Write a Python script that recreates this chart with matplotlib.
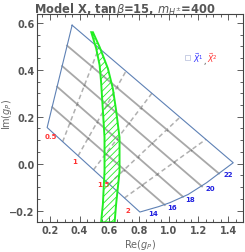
import numpy as np
import matplotlib
matplotlib.use("Agg")
import matplotlib.pyplot as plt
from matplotlib.ticker import MultipleLocator

# boundary of the allowed region (Re, Im)
edge_x = [0.350, 0.182, 0.806, 0.932, 1.008, 1.131, 1.255, 1.345, 1.434, 0.350]
edge_y = [0.590, 0.154, -0.206, -0.183, -0.166, -0.131, -0.081, -0.038, 0.004, 0.590]

# solid mesh lines (16..22), start on left edge, end on lower curve
solid_x0 = [0.216, 0.249, 0.283, 0.316]
solid_y0 = [0.241, 0.328, 0.416, 0.503]
solid_x1 = [0.974, 1.096, 1.224, 1.338]
solid_y1 = [-0.176, -0.141, -0.097, -0.042]

# dashed mesh lines (0.75..1.75), start on lower-left edge, end on upper-right edge
dash_x0 = [0.286, 0.390, 0.494, 0.598, 0.702]
dash_y0 = [0.093, 0.033, -0.026, -0.087, -0.146]
dash_x1 = [0.530, 0.712, 0.887, 1.076, 1.251]
dash_y1 = [0.493, 0.394, 0.300, 0.198, 0.104]

# green hatched band
band_left_x = [0.479, 0.512, 0.535, 0.545, 0.557, 0.568, 0.568, 0.557, 0.545]
band_left_y = [0.560, 0.491, 0.420, 0.348, 0.227, 0.112, -0.033, -0.173, -0.250]
band_right_x = [0.490, 0.535, 0.591, 0.624, 0.646, 0.669, 0.669, 0.646, 0.636]
band_right_y = [0.560, 0.497, 0.405, 0.320, 0.227, 0.112, -0.033, -0.173, -0.250]

# point labels
red_labels = ["0.5", "1", "1.5", "2"]
red_lx = [0.207, 0.370, 0.557, 0.723]
red_ly = [0.116, 0.011, -0.088, -0.199]
blue_labels = ["14", "16", "18", "20", "22"]
blue_lx = [0.896, 1.020, 1.143, 1.278, 1.401]
blue_ly = [-0.209, -0.185, -0.149, -0.105, -0.043]

plt.rcParams['hatch.linewidth'] = 0.6
fig = plt.figure(figsize=(2.45, 2.53), dpi=100)
ax = fig.add_axes([0.153, 0.119, 0.839, 0.822])

for i in range(len(dash_x0)):
    ax.plot([dash_x0[i], dash_x1[i]], [dash_y0[i], dash_y1[i]], color='#b0b0b0',
            lw=1.1, ls=(0, (3, 2)), zorder=2)
for i in range(len(solid_x0)):
    ax.plot([solid_x0[i], solid_x1[i]], [solid_y0[i], solid_y1[i]], color='#a8a8a8',
            lw=1.3, zorder=2)

# small dots where mesh lines cross
def cross(p0, p1, q0, q1):
    d1 = np.subtract(p1, p0)
    d2 = np.subtract(q1, q0)
    m = np.array([d1, -d2]).T
    t, s = np.linalg.solve(m, np.subtract(q0, p0))
    if 0 <= t <= 1 and 0 <= s <= 1:
        return p0[0] + t * d1[0], p0[1] + t * d1[1]
    return None

px, py = [], []
for i in range(len(solid_x0)):
    for j in range(len(dash_x0)):
        c = cross((solid_x0[i], solid_y0[i]), (solid_x1[i], solid_y1[i]),
                  (dash_x0[j], dash_y0[j]), (dash_x1[j], dash_y1[j]))
        if c:
            px.append(c[0]); py.append(c[1])
ax.scatter(px, py, s=2, color='#808080', zorder=3, linewidths=0)

ax.plot(edge_x, edge_y, color='#5e81b5', lw=0.8, zorder=3)

bx = band_left_x + band_right_x[::-1]
by = band_left_y + band_right_y[::-1]
ax.fill(bx, by, facecolor='none', edgecolor='#22ee22', hatch='/////', lw=1.4, zorder=4)

for t, x, y in zip(red_labels, red_lx, red_ly):
    ax.text(x, y, t, color='#ff3030', fontsize=5, fontweight='bold', ha='center', va='center')
for t, x, y in zip(blue_labels, blue_lx, blue_ly):
    ax.text(x, y, t, color='#2020e0', fontsize=5, fontweight='bold', ha='center', va='center')

# legend
ax.scatter([1.124], [0.452], marker='s', s=14, facecolor='none', edgecolor='#c0c8e0', lw=0.6)
ax.text(1.162, 0.452, r'$\vec{X}^1$', color='#3030ff', fontsize=5.5, va='center')
ax.text(1.232, 0.440, ',', color='#333333', fontsize=5.5, va='center')
ax.text(1.258, 0.452, r'$\vec{X}^2$', color='#ff3030', fontsize=5.5, va='center')

ax.set_xlim(0.117, 1.50)
ax.set_ylim(-0.248, 0.638)
ax.xaxis.set_major_locator(MultipleLocator(0.2))
ax.xaxis.set_minor_locator(MultipleLocator(0.05))
ax.yaxis.set_major_locator(MultipleLocator(0.2))
ax.yaxis.set_minor_locator(MultipleLocator(0.05))
ax.tick_params(which='both', direction='in', top=True, right=True, color='#444444',
               labelsize=7, labelcolor='#555555', width=0.6)
ax.tick_params(which='major', length=4, pad=2)
ax.tick_params(which='minor', length=2)
for lab in ax.get_xticklabels() + ax.get_yticklabels():
    lab.set_fontweight('bold')
for s in ax.spines.values():
    s.set_color('#444444')
    s.set_linewidth(0.8)

ax.set_xlabel(r'Re($g_P$)', color='#666666', fontsize=7)
ax.xaxis.set_label_coords(0.5, -0.075)
ax.set_ylabel(r'Im($g_P$)', color='#666666', fontsize=7)
ax.yaxis.set_label_coords(-0.112, 0.52)
fig.text(0.51, 0.995, r'Model X, tan$\beta$=15, $m_{H^{\pm}}$=400', ha='center', va='top',
         fontsize=8.3, fontweight='bold', color='#555555')

fig.savefig('out.png', dpi=100)
